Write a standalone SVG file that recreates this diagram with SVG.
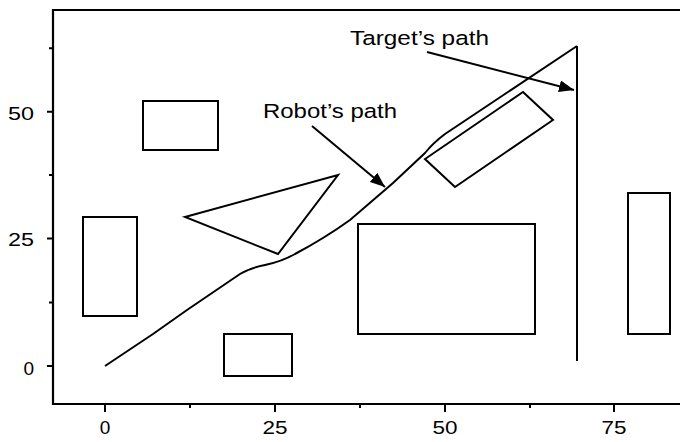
<svg xmlns="http://www.w3.org/2000/svg" width="680" height="442" viewBox="0 0 680 442">
  <style>
    .ln { fill: none; stroke: #000; stroke-width: 2; stroke-linejoin: miter; }
    .ax { fill: none; stroke: #000; stroke-width: 2.2; }
    .tk { stroke: #000; stroke-width: 2; }
    .num { font-family: "Liberation Sans", Arial, Helvetica, sans-serif; font-size: 19px; fill: #000; }
    .lbl { font-family: "Liberation Sans", Arial, Helvetica, sans-serif; font-size: 20.5px; fill: #000; }
  </style>
  <defs>
    <marker id="arrow" viewBox="0 0 15 12" refX="15" refY="6" markerWidth="15" markerHeight="12" markerUnits="userSpaceOnUse" orient="auto">
      <path d="M0,0 L15,6 L0,12 Z" fill="#000"/>
    </marker>
  </defs>
  <rect width="680" height="442" fill="#fff"/>

  <!-- plot frame -->
  <g id="axes">
    <path class="ax" d="M680,10 H53 V404 H680"/>
    <!-- y ticks -->
    <path class="tk" d="M47,366 H53 M47,238.5 H53 M47,111.7 H53 M49,302.5 H53 M49,175 H53 M49,48.3 H53"/>
    <!-- x ticks -->
    <path class="tk" d="M105,404 V412 M275,404 V412 M445,404 V412 M614,404 V412 M190,404 V408 M360,404 V408 M530,404 V408"/>
    <text class="num" x="34" y="375" text-anchor="end">0</text>
    <text class="num" x="34" y="246" text-anchor="end" textLength="26" lengthAdjust="spacingAndGlyphs">25</text>
    <text class="num" x="34" y="119.5" text-anchor="end" textLength="26" lengthAdjust="spacingAndGlyphs">50</text>
    <text class="num" x="105" y="434" text-anchor="middle">0</text>
    <text class="num" x="275" y="434" text-anchor="middle" textLength="25" lengthAdjust="spacingAndGlyphs">25</text>
    <text class="num" x="445" y="434" text-anchor="middle" textLength="25" lengthAdjust="spacingAndGlyphs">50</text>
    <text class="num" x="614" y="434" text-anchor="middle" textLength="25" lengthAdjust="spacingAndGlyphs">75</text>
  </g>

  <!-- obstacles -->
  <g id="obstacle-1"><rect class="ln" x="143" y="101" width="75" height="49"/></g>
  <g id="obstacle-2"><rect class="ln" x="83" y="217" width="54" height="99"/></g>
  <g id="obstacle-3"><rect class="ln" x="224" y="334" width="68" height="42"/></g>
  <g id="obstacle-4"><rect class="ln" x="358" y="224" width="177" height="110"/></g>
  <g id="obstacle-5"><rect class="ln" x="628" y="193" width="42" height="141"/></g>
  <g id="obstacle-6"><polygon class="ln" points="185,217 338,175 278,254"/></g>
  <g id="obstacle-7"><polygon class="ln" points="523,92 553,120 455,187 425,159"/></g>

  <!-- paths -->
  <g id="robot-path">
    <path class="ln" d="M105,366 L153,334 L187,310 L240,274 C248,269 255,267 265,265 C275,263 283,261 295,254 Q325,238 350,220 L393,183 L425,153 Q433,143 445,134 L577,46"/>
  </g>
  <g id="target-path">
    <path class="ln" d="M577,46 V361"/>
  </g>

  <!-- labels -->
  <g id="label-target">
    <text class="lbl" x="350" y="45" textLength="139" lengthAdjust="spacingAndGlyphs">Target’s path</text>
  </g>
  <g id="label-robot">
    <text class="lbl" x="263" y="118" textLength="134" lengthAdjust="spacingAndGlyphs">Robot’s path</text>
  </g>

  <!-- leader arrows -->
  <g id="connectors">
    <line class="ln" x1="427" y1="52" x2="574" y2="90" marker-end="url(#arrow)"/>
    <line class="ln" x1="312" y1="126" x2="385" y2="187" marker-end="url(#arrow)"/>
  </g>
</svg>
